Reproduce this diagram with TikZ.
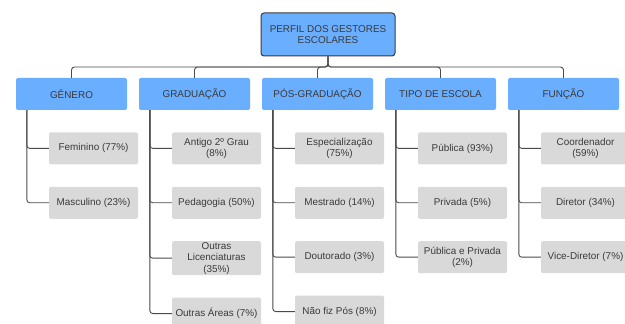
\documentclass[tikz,border=0pt]{standalone}
\usepackage{fontspec}
\setmainfont{Liberation Sans}
\usepackage{xcolor}
\usetikzlibrary{positioning}

\definecolor{catblue}{HTML}{6AAEFF}
\definecolor{leafgray}{HTML}{D9D9D9}
\definecolor{inkgray}{HTML}{3A3A3A}
\definecolor{linegray}{HTML}{4A4A4A}

\begin{document}
\begin{tikzpicture}[
    x=1pt, y=1pt,
    node distance=22pt,
    font=\fontsize{9.9pt}{11.5pt}\selectfont, text=inkgray,
    root/.style={rectangle, draw=inkgray, line width=1pt, fill=catblue, rounded corners=3pt, minimum width=134pt, minimum height=43pt, align=center, inner sep=1pt},
    cat/.style={rectangle, fill=catblue, rounded corners=2pt, minimum width=111pt, minimum height=32pt, align=center, inner sep=1pt},
    leaf/.style={rectangle, fill=leafgray, rounded corners=2pt, minimum width=89pt, minimum height=32pt, align=center, inner sep=1pt},
    conn/.style={draw=linegray, line width=0.9pt, rounded corners=3pt}
]
\useasboundingbox (0,0) rectangle (625,324);

% Root
\node[root] (perfil) at (328,289.5) {PERFIL DOS GESTORES\\ESCOLARES};
\coordinate (bus) at (0,257);

% Categories
\node[cat] (genero) at (71.5,230) {GÊNERO};
\node[cat, right=11.6pt of genero] (graduacao) {GRADUAÇÃO};
\node[cat, right=11.6pt of graduacao] (posgrad) {PÓS-GRADUAÇÃO};
\node[cat, right=11.6pt of posgrad] (escola) {TIPO DE ESCOLA};
\node[cat, right=11.6pt of escola] (funcao) {FUNÇÃO};

% Genero column
\node[leaf, below=22pt of genero, xshift=22pt] (feminino) {Feminino (77\%)};
\node[leaf, below=of feminino] (masculino) {Masculino (23\%)};

% Graduacao column
\node[leaf, below=22pt of graduacao, xshift=22pt] (antigo) {Antigo 2º Grau\\(8\%)};
\node[leaf, below=of antigo] (pedagogia) {Pedagogia (50\%)};
\node[leaf, below=of pedagogia] (licenc) {Outras\\Licenciaturas\\(35\%)};
\node[leaf, below=of licenc] (areas) {Outras Áreas (7\%)};

% Pos-graduacao column
\node[leaf, below=22pt of posgrad, xshift=22pt] (especial) {Especialização\\(75\%)};
\node[leaf, below=of especial] (mestrado) {Mestrado (14\%)};
\node[leaf, below=of mestrado] (doutorado) {Doutorado (3\%)};
\node[leaf, below=of doutorado] (naopos) {Não fiz Pós (8\%)};

% Tipo de escola column
\node[leaf, below=22pt of escola, xshift=22pt] (publica) {Pública (93\%)};
\node[leaf, below=of publica] (privada) {Privada (5\%)};
\node[leaf, below=of privada] (pubpriv) {Pública e Privada\\(2\%)};

% Funcao column
\node[leaf, below=22pt of funcao, xshift=22pt] (coord) {Coordenador\\(59\%)};
\node[leaf, below=of coord] (diretor) {Diretor (34\%)};
\node[leaf, below=of diretor] (vice) {Vice-Diretor (7\%)};

% Root to categories
\foreach \c in {genero,graduacao,posgrad,escola,funcao}
    \draw[conn] (perfil.south) -- (perfil.south |- bus) -| (\c.north);

% Categories to leaves
\foreach \c/\l in {genero/feminino,genero/masculino,
                   graduacao/antigo,graduacao/pedagogia,graduacao/licenc,graduacao/areas,
                   posgrad/especial,posgrad/mestrado,posgrad/doutorado,posgrad/naopos,
                   escola/publica,escola/privada,escola/pubpriv,
                   funcao/coord,funcao/diretor,funcao/vice}
    \draw[conn] ([xshift=11pt]\c.south west) |- (\l.west);

\end{tikzpicture}
\end{document}
